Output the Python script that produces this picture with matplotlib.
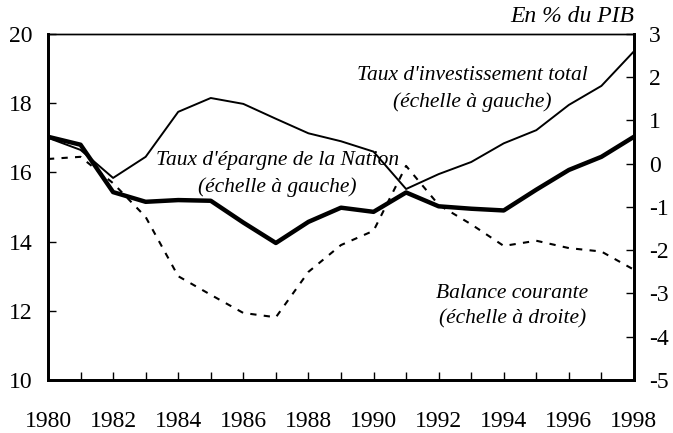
import numpy as np
import matplotlib
matplotlib.use('Agg')
import matplotlib.pyplot as plt

plt.rcParams['font.family'] = ['Liberation Serif', 'DejaVu Serif']
plt.rcParams['axes.unicode_minus'] = False

years = np.arange(1980, 1999)
# taux d'investissement total (% du PIB, echelle a gauche)
invest = [17.0, 16.65, 15.84, 16.45, 17.75, 18.15, 17.98, 17.55, 17.13, 16.9,
          16.6, 15.52, 15.95, 16.3, 16.84, 17.22, 17.95, 18.5, 19.5]
# taux d'epargne de la Nation (echelle a gauche)
epargne = [17.03, 16.8, 15.43, 15.15, 15.2, 15.18, 14.55, 13.96, 14.57, 14.98,
           14.86, 15.42, 15.02, 14.95, 14.9, 15.5, 16.07, 16.45, 17.03]
# balance courante (echelle a droite)
balance = [0.11, 0.16, -0.45, -1.23, -2.6, -3.03, -3.45, -3.55, -2.5, -1.88,
           -1.55, -0.05, -0.95, -1.4, -1.9, -1.78, -1.95, -2.03, -2.45]

fig = plt.figure(figsize=(6.73, 4.33), dpi=100)
ax = fig.add_axes([0.0713, 0.1224, 0.8707, 0.7991])
ax2 = ax.twinx()

ax.plot(years, invest, color='black', lw=1.4)
ax.plot(years, epargne, color='black', lw=3.2)
ax2.plot(years, balance, color='black', lw=1.5, dashes=(3, 3.5))

ax.set_xlim(1980, 1998)
ax.set_ylim(10, 20)
ax2.set_ylim(-5, 3)
ax.set_xticks(years)
ax.set_xticklabels([str(y) if y % 2 == 0 else '' for y in years])
ax.set_yticks([10, 12, 14, 16, 18, 20])
ax2.set_yticks(range(-5, 4))

ax.tick_params(axis='x', direction='in', length=6, width=1, pad=22, labelsize=17)
ax.tick_params(axis='y', direction='in', length=6, width=1, pad=11, labelsize=17)
ax2.tick_params(axis='y', direction='in', length=6, width=1, pad=11, labelsize=17)

for a in (ax, ax2):
    for s in ('left', 'bottom', 'right'):
        a.spines[s].set_linewidth(2)
    a.spines['top'].set_linewidth(1)

ax.text(0.7235, 0.841, "Taux d'investissement total\n(échelle à gauche)",
        transform=ax.transAxes, ha='center', va='center', fontsize=15.5,
        style='italic', linespacing=1.45)
ax.text(0.391, 0.595, "Taux d'épargne de la Nation\n(échelle à gauche)",
        transform=ax.transAxes, ha='center', va='center', fontsize=15.5,
        style='italic', linespacing=1.45)
ax.text(0.792, 0.214, "Balance courante\n(échelle à droite)",
        transform=ax.transAxes, ha='center', va='center', fontsize=15.5,
        style='italic', linespacing=1.45)
ax.text(1.0, 1.02, "En % du PIB", transform=ax.transAxes, ha='right',
        va='bottom', fontsize=17, style='italic')

fig.savefig('out.png', dpi=100)
